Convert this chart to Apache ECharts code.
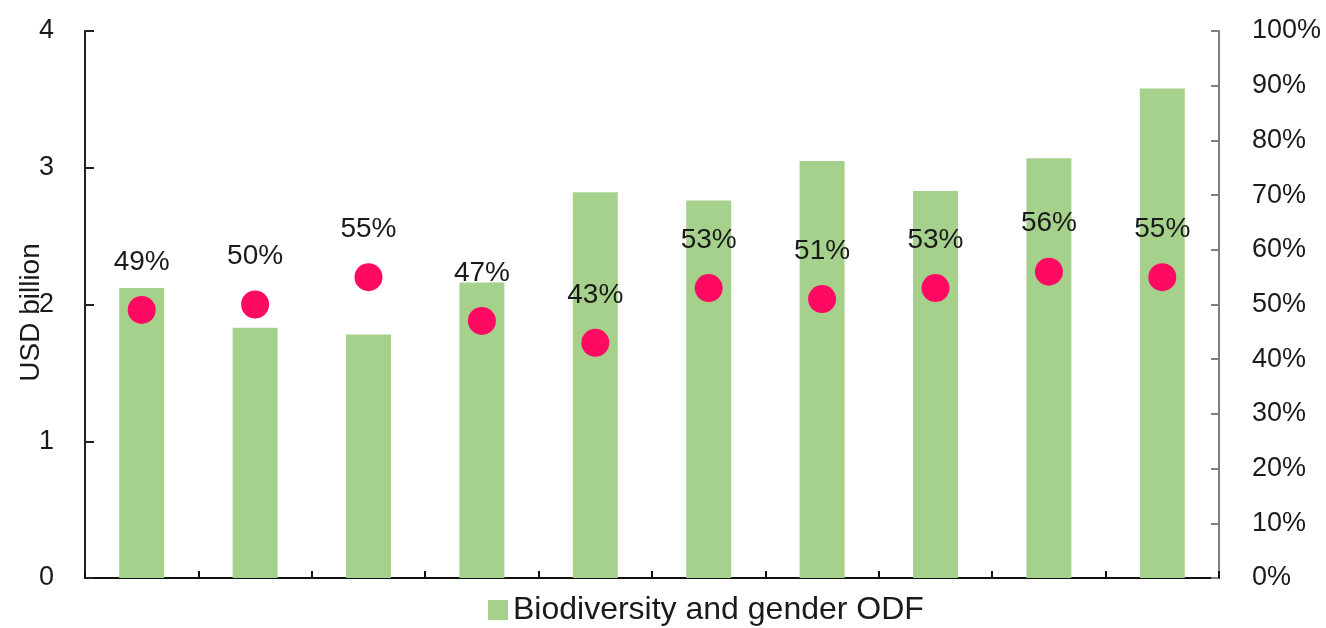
<!DOCTYPE html>
<html>
<head>
<meta charset="utf-8">
<script src="https://cdn.jsdelivr.net/npm/echarts@6/dist/echarts.min.js"></script>
<style>
html,body{margin:0;padding:0;background:#fff;}
#c{width:1326px;height:628px;}
</style>
</head>
<body>
<div id="c"></div>
<script>
var categories = ['1','2','3','4','5','6','7','8','9','10'];
var odfValues = [2.12, 1.83, 1.78, 2.16, 2.82, 2.76, 3.05, 2.83, 3.07, 3.58];
var sharePct = [49, 50, 55, 47, 43, 53, 51, 53, 56, 55];
var leftTicks = {min: 0, max: 4, interval: 1};
var rightTicks = {min: 0, max: 100, interval: 10};

var font = "'Liberation Sans',Arial,sans-serif";

var chart = echarts.init(document.getElementById('c'));
chart.setOption({
  animation: false,
  backgroundColor: '#fff',
  grid: {left: 85, right: 107, top: 31, bottom: 50, containLabel: false, outerBoundsMode: 'none'},
  legend: {
    data: ['Biodiversity and gender ODF'],
    left: 483, top: 589,
    itemWidth: 20, itemHeight: 20,
    icon: 'rect',
    textStyle: {fontFamily: font, fontSize: 32, color: '#1a1a1a'}
  },
  xAxis: {
    type: 'category',
    data: categories,
    axisLine: {show: true, lineStyle: {color: '#111', width: 2}},
    axisTick: {show: true, interval: 0, inside: true, length: 7, lineStyle: {color: '#111', width: 2}},
    axisLabel: {show: false}
  },
  yAxis: [{
    type: 'value',
    min: leftTicks.min, max: leftTicks.max, interval: leftTicks.interval,
    name: 'USD billion',
    nameLocation: 'middle',
    nameGap: 40,
    nameMoveOverlap: false,
    nameTextStyle: {fontFamily: font, fontSize: 28, color: '#1a1a1a', padding: [0, 16, 0, 0]},
    splitLine: {show: false},
    axisLine: {show: true, lineStyle: {color: '#222', width: 2}},
    axisTick: {show: true, inside: true, length: 9, lineStyle: {color: '#222', width: 2}},
    axisLabel: {fontFamily: font, fontSize: 27, color: '#1a1a1a', margin: 31}
  }, {
    type: 'value',
    position: 'right',
    min: rightTicks.min, max: rightTicks.max, interval: rightTicks.interval,
    splitLine: {show: false},
    axisLine: {show: true, lineStyle: {color: '#7f7f7f', width: 2}},
    axisTick: {show: true, inside: true, length: 8, lineStyle: {color: '#7f7f7f', width: 2}},
    axisLabel: {fontFamily: font, fontSize: 27, color: '#1a1a1a', margin: 33, formatter: '{value}%'}
  }],
  series: [{
    name: 'Biodiversity and gender ODF',
    type: 'bar',
    data: odfValues,
    barWidth: 45,
    itemStyle: {color: '#a6d18c'}
  }, {
    name: 'Share',
    type: 'scatter',
    yAxisIndex: 1,
    data: sharePct,
    symbolSize: 28,
    itemStyle: {color: '#ff0a62', opacity: 1},
    label: {
      show: true, position: 'top', distance: 20,
      formatter: '{c}%',
      fontFamily: font, fontSize: 28, color: '#1a1a1a'
    }
  }]
});
</script>
</body>
</html>
